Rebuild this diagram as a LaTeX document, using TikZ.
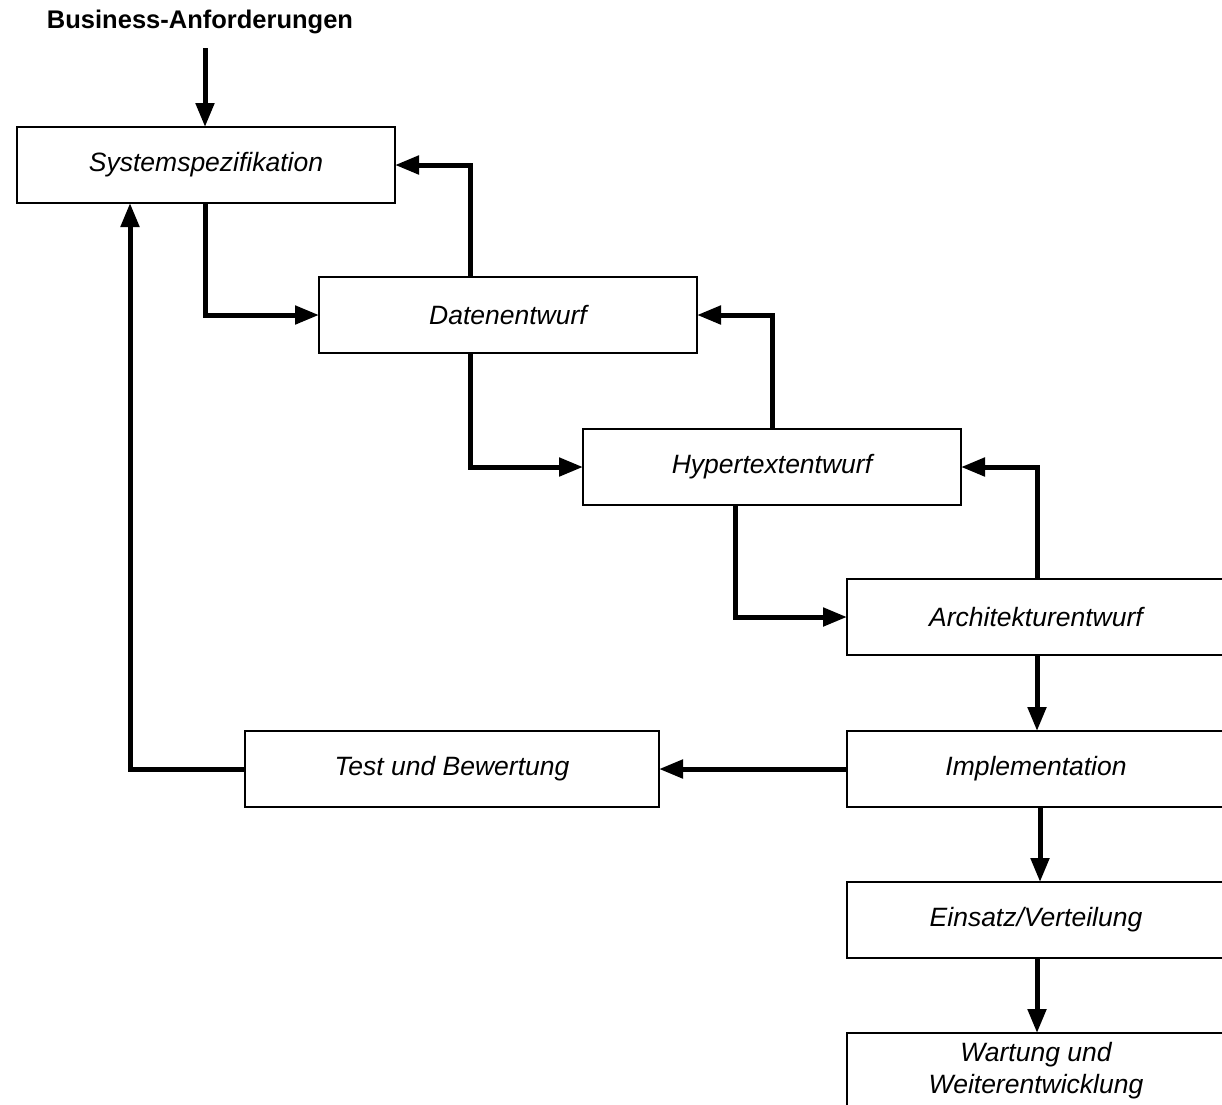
\documentclass[tikz,border=0pt]{standalone}
\usepackage{fontspec}
\setmainfont{Liberation Sans}
\usetikzlibrary{arrows.meta}
\begin{document}
\begin{tikzpicture}[x=1pt,y=-1pt,
  phase/.style={draw, line width=1.6pt, minimum width=378pt, minimum height=76pt,
    inner sep=0pt, outer sep=0pt, align=center,
    font=\fontsize{26.5}{32}\selectfont\itshape},
  flow/.style={line width=5pt, -{Triangle[length=24pt,width=18pt]}}]
\useasboundingbox (0,0) rectangle (1222,1104);
\fill[white] (0,0) rectangle (1222,1104);

\node[font=\fontsize{25.5}{30}\selectfont\bfseries] (req) at (200,22) {Business-Anforderungen};
\coordinate (reqend) at (205,48);

\node[phase] (sys)  at (206,165) {Systemspezifikation};
\node[phase] (dat)  at (508,315) {Datenentwurf};
\node[phase] (hyp)  at (772,467) {Hypertextentwurf};
\node[phase] (arch) at (1036,617) {Architekturentwurf};
\node[phase] (impl) at (1036,769) {Implementation};
\node[phase, minimum width=414pt] (test) at (452,769) {Test und Bewertung};
\node[phase] (eins) at (1036,920) {Einsatz/Verteilung};
\node[phase] (wart) at (1036,1071) {Wartung und\\Weiterentwicklung};

% entry
\draw[flow] (reqend) -- (sys.north -| reqend);

% forward steps
\draw[flow] (sys.south -| 205,0) |- (dat.west);
\draw[flow] (dat.south -| 470,0) |- (hyp.west);
\draw[flow] (hyp.south -| 735,0) |- (arch.west);
\draw[flow] (arch.south -| 1037,0) -- (impl.north -| 1037,0);
\draw[flow] (impl.south -| 1040,0) -- (eins.north -| 1040,0);
\draw[flow] (eins.south -| 1037,0) -- (wart.north -| 1037,0);

% feedback loops
\draw[flow] (dat.north -| 470,0) |- (sys.east);
\draw[flow] (hyp.north -| 772,0) |- (dat.east);
\draw[flow] (arch.north -| 1037,0) |- (hyp.east);
\draw[flow] (impl.west) -- (test.east);
\draw[flow] (test.west) -| (sys.south -| 130,0);
\end{tikzpicture}
\end{document}
